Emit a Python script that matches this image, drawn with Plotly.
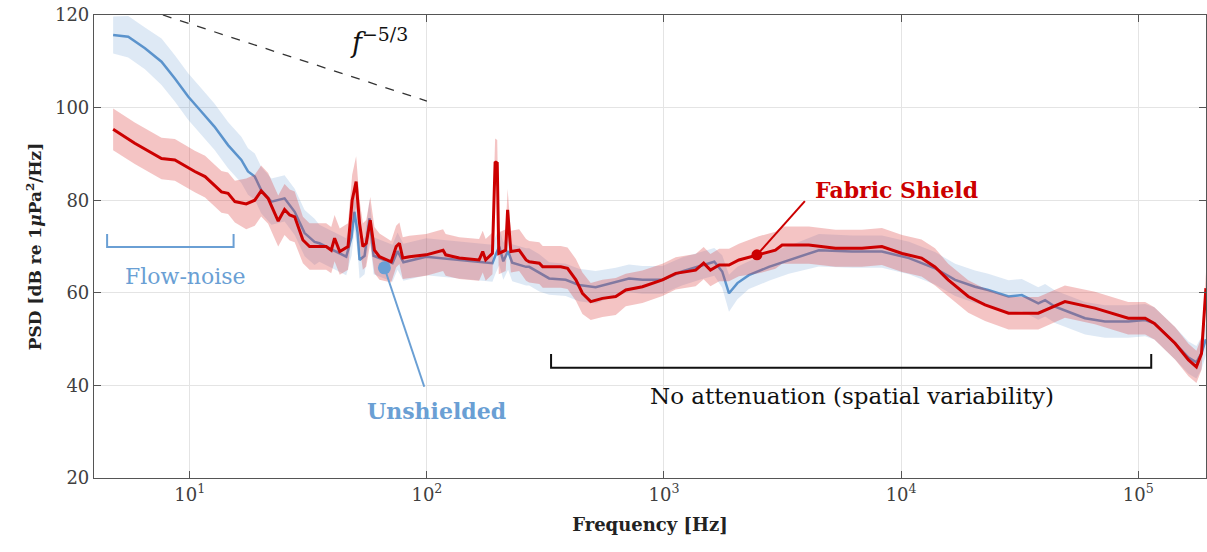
import plotly.graph_objects as go

# ---------------- data ----------------
red_f = [4.75, 5.86, 7.60, 8.65, 10.5, 11.6, 13.6, 14.5, 15.5,
         17.3, 18.8, 20.0, 21.4, 22.5, 23.6, 25.1, 26.4, 27.7,
         30.0, 32.0, 37.6, 39.5, 40.8, 42.9, 46.5, 48.4, 50.3, 52.0, 53.7, 55.5, 57.7, 60.1, 63.1,
         70.7, 74.2, 76.6, 79.1, 84.4, 99.3, 117, 120, 137, 166, 172, 177, 189, 194, 198, 201,
         215, 219, 226, 245, 262, 270, 298, 308,
         367, 392, 425, 453, 491, 550, 626, 690, 811, 985,
         1120, 1360, 1470, 1570, 1710, 1880, 2070,
         2510, 2950, 3150, 4080, 5290, 6840, 8300, 10100, 12200, 13900,
         15800, 19200, 22600, 25800, 28400, 37900, 49100, 65700, 90800, 107000, 117000,
         143000, 163000, 176000, 185000, 193000]
red_db = [95.3, 92.3, 89.0, 88.7, 86.2, 85.1, 81.8, 81.5, 79.7,
          79.2, 80.0, 82.0, 80.4, 77.9, 75.5, 78.0, 76.8, 76.4,
          71.4, 70.0, 70.0, 69.2, 71.8, 68.9, 70.0, 80.0, 84.0, 75.0, 70.0, 70.7, 75.7, 69.2, 67.8,
          66.7, 70.0, 70.7, 67.5, 67.8, 68.2, 69.2, 68.2, 67.5, 67.1, 68.9, 67.1, 68.5, 88.3, 88.0, 68.5,
          69.2, 77.9, 68.9, 69.2, 67.1, 66.7, 66.4, 65.6,
          65.6, 65.3, 62.8, 59.9, 58.1, 58.8, 59.2, 60.6, 61.3, 62.8,
          64.2, 64.9, 66.4, 64.9, 66.0, 66.0, 67.1,
          68.2, 69.2, 70.3, 70.3, 69.6, 69.6, 70.0, 68.5, 67.5, 65.6,
          62.8, 59.2, 57.4, 56.3, 55.6, 55.6, 58.1, 56.7, 54.5, 54.5, 53.4,
          49.1, 45.5, 44.0, 46.9, 61.0]
red_spread = [4.5, 4.5, 4.5, 4.5, 4.5, 4.5, 4.5, 4.5, 4.5,
              5.5, 5.5, 5.5, 5.5, 5.5, 5.5, 5.5, 5.5, 5.5,
              5.0, 5.0, 5.0, 5.0, 5.0, 5.0, 5.0, 5.5, 5.5, 5.0, 5.0, 5.0, 5.0, 5.0, 5.0,
              4.5, 4.5, 4.5, 4.5, 4.5, 4.5, 4.5, 4.5, 4.5, 4.5, 4.5, 4.5, 4.5, 5.0, 5.0, 4.5,
              4.5, 4.5, 4.5, 4.5, 4.5, 4.5, 4.5, 4.5,
              4.5, 4.5, 4.5, 4.5, 4.0, 4.0, 4.0, 3.5, 3.5, 3.5,
              3.5, 3.5, 3.5, 3.5, 3.5, 3.5, 3.5,
              4.0, 4.0, 4.0, 4.0, 4.0, 4.0, 4.0, 4.0, 4.0, 4.0,
              3.5, 3.5, 3.5, 3.5, 3.5, 3.5, 3.5, 3.5, 3.5, 3.5, 3.5,
              3.5, 3.5, 3.5, 3.5, 3.5]

blue_f = [4.75, 5.50, 6.47, 7.60, 8.65, 9.84,
          11.2, 12.7, 14.5, 16.5, 17.6, 18.8, 20.0, 22.1, 25.1, 27.7, 30.5, 33.6,
          35.2, 45.7, 48.1, 49.5, 51.0, 52.0, 54.6, 57.3, 59.6, 63.1, 71.6, 75.2, 79.6, 99.3,
          137, 189, 196, 202, 210, 220, 229, 262, 270, 298,
          328, 385, 438, 515, 626, 712, 811, 985,
          1190, 1450, 1630, 1760, 1880, 2040, 2280, 2770, 3360,
          4500, 6210, 8300, 10800, 13900, 16900, 20500, 23300, 28400, 32300, 37900, 40500,
          44600, 50700, 59700, 72400, 90800, 107000, 117000, 143000, 163000, 176000, 185000, 193000]
blue_db = [115.7, 115.3, 112.8, 109.9, 106.3, 102.4,
           99.1, 95.9, 91.9, 88.7, 86.2, 85.1, 82.2, 79.7, 80.4, 77.5, 72.9, 71.0,
           70.7, 67.8, 72.0, 77.5, 73.0, 67.1, 68.0, 76.1, 68.0, 67.5, 66.4, 69.0, 66.6, 67.8,
           67.1, 66.4, 68.5, 70.0, 66.8, 69.0, 66.5, 65.6, 65.6, 64.3,
           63.1, 62.8, 61.7, 61.2, 62.4, 63.1, 62.8, 62.8,
           64.6, 66.0, 66.7, 64.6, 59.9, 62.1, 63.8, 65.6, 67.1,
           69.2, 68.9, 68.9, 67.5, 65.3, 62.8, 61.3, 60.6, 59.2, 59.5, 57.7, 58.4,
           57.0, 55.9, 54.5, 53.8, 53.8, 54.1, 53.4, 49.1, 46.0, 45.0, 47.0, 50.0]
blue_spread = [4.0, 4.5, 4.5, 5.0, 5.0, 5.0,
               5.0, 5.0, 5.0, 5.0, 5.0, 5.0, 5.0, 5.0, 5.0, 5.0, 5.0, 5.0,
               4.0, 4.0, 4.0, 4.0, 4.0, 4.0, 4.0, 4.0, 4.0, 4.0, 4.0, 4.0, 4.0, 4.0,
               4.0, 4.0, 4.0, 4.0, 4.0, 4.0, 4.0, 4.0, 4.0, 4.0,
               3.5, 3.5, 3.5, 3.5, 3.0, 3.0, 3.0, 3.0,
               3.0, 3.0, 3.0, 3.5, 4.0, 3.5, 3.0, 3.0, 3.0,
               3.5, 3.5, 3.5, 3.5, 3.5, 3.5, 3.5, 3.5, 3.5, 3.5, 3.5, 3.5,
               3.5, 3.5, 3.5, 3.5, 3.5, 3.5, 3.5, 3.5, 3.5, 3.5, 3.5, 3.5]

slope_f = [7.7, 100]          # f^-5/3 guide
slope_db = [120, 101.4]

x_ticks = [10, 100, 1000, 10000, 100000]
x_ticktext = ["10<sup>1</sup>", "10<sup>2</sup>", "10<sup>3</sup>", "10<sup>4</sup>", "10<sup>5</sup>"]
y_ticks = [20, 40, 60, 80, 100, 120]

# annotation anchors
flow_f = [4.48, 4.48, 15.3, 15.3]
flow_db = [72.7, 69.9, 69.9, 72.7]
noatt_f = [334, 334, 113500, 113500]
noatt_db = [46.8, 43.8, 43.8, 46.8]
unsh_f = [66.2, 97.5]
unsh_db = [65.4, 39.7]
fab_f = [2466, 3928]
fab_db = [68.2, 79.8]

# ---------------- styling ----------------
RED = "#cc0000"
BLUE = "#5b93cc"
BLUE_TXT = "#6a9fd4"
SERIF = "DejaVu Serif"

fig = go.Figure()

def band(f, v, s, color):
    up = [a + b for a, b in zip(v, s)]
    lo = [a - b for a, b in zip(v, s)]
    fig.add_trace(go.Scatter(x=f + f[::-1], y=up + lo[::-1], fill="toself",
                             fillcolor=color, line=dict(width=0), mode="lines",
                             hoverinfo="skip", showlegend=False))

band(blue_f, blue_db, blue_spread, "rgba(91,146,204,0.2)")
fig.add_trace(go.Scatter(x=blue_f, y=blue_db, mode="lines",
                         line=dict(color=BLUE, width=2.5), showlegend=False))
band(red_f, red_db, red_spread, "rgba(220,60,60,0.3)")
fig.add_trace(go.Scatter(x=red_f, y=red_db, mode="lines",
                         line=dict(color=RED, width=3), showlegend=False))

# guide line
fig.add_trace(go.Scatter(x=slope_f, y=slope_db, mode="lines",
                         line=dict(color="#333", width=1.3, dash="dash"), showlegend=False))
# brackets
fig.add_trace(go.Scatter(x=flow_f, y=flow_db, mode="lines",
                         line=dict(color=BLUE_TXT, width=2), showlegend=False))
fig.add_trace(go.Scatter(x=noatt_f, y=noatt_db, mode="lines",
                         line=dict(color="#111", width=2), showlegend=False))
# pointers
fig.add_trace(go.Scatter(x=unsh_f, y=unsh_db, mode="lines",
                         line=dict(color=BLUE_TXT, width=2), showlegend=False))
fig.add_trace(go.Scatter(x=unsh_f[:1], y=unsh_db[:1], mode="markers",
                         marker=dict(color=BLUE_TXT, size=13), showlegend=False))
fig.add_trace(go.Scatter(x=fab_f, y=fab_db, mode="lines",
                         line=dict(color=RED, width=2), showlegend=False))
fig.add_trace(go.Scatter(x=fab_f[:1], y=fab_db[:1], mode="markers",
                         marker=dict(color=RED, size=11), showlegend=False))

ann = [
    dict(x=0.983, y=63.6, text="Flow-noise", font=dict(family=SERIF, size=22, color=BLUE_TXT)),
    dict(x=3.792, y=37.7, text="No attenuation (spatial variability)",
         font=dict(family=SERIF, size=23, color="#111")),
    dict(x=2.04, y=34.5, text="<b>Unshielded</b>", font=dict(family=SERIF, size=22, color=BLUE_TXT)),
    dict(x=3.981, y=82.2, text="<b>Fabric Shield</b>", font=dict(family=SERIF, size=22, color=RED)),
    dict(x=1.80, y=114.5, text="<i>f</i><sup>\u22125/3</sup>", font=dict(family=SERIF, size=27, color="#111")),
]
for a in ann:
    a.update(xref="x", yref="y", showarrow=False, xanchor="center", yanchor="middle")

axis_common = dict(showline=True, linecolor="#555", linewidth=1.2, mirror="ticks",
                   ticks="inside", ticklen=7, tickcolor="#555", showgrid=True,
                   gridcolor="#e4e4e4", gridwidth=1, zeroline=False, automargin=False,
                   ticklabeloverflow="allow",
                   tickfont=dict(family=SERIF, size=18, color="#404040"))

fig.update_layout(
    width=1207, height=552,
    margin=dict(l=94, r=1, t=15, b=74),
    paper_bgcolor="white", plot_bgcolor="white",
    annotations=ann,
    xaxis=dict(type="log", range=[0.596, 5.286], tickvals=x_ticks, ticktext=x_ticktext,
               title=dict(text="<b>Frequency [Hz]</b>", font=dict(family=SERIF, size=18, color="#222"),
                          standoff=14),
               **axis_common),
    yaxis=dict(range=[20, 120], tickvals=y_ticks,
               title=dict(text="<b>PSD [dB re 1<i>μ</i>Pa<sup>2</sup>/Hz]</b>",
                          font=dict(family=SERIF, size=17, color="#222"), standoff=8),
               **axis_common),
)

# remove the default page margin so the figure fills the window exactly
fig.write_html("out.html", config={"displayModeBar": False},
               post_script="document.body.style.margin='0';document.body.style.overflow='hidden';")
